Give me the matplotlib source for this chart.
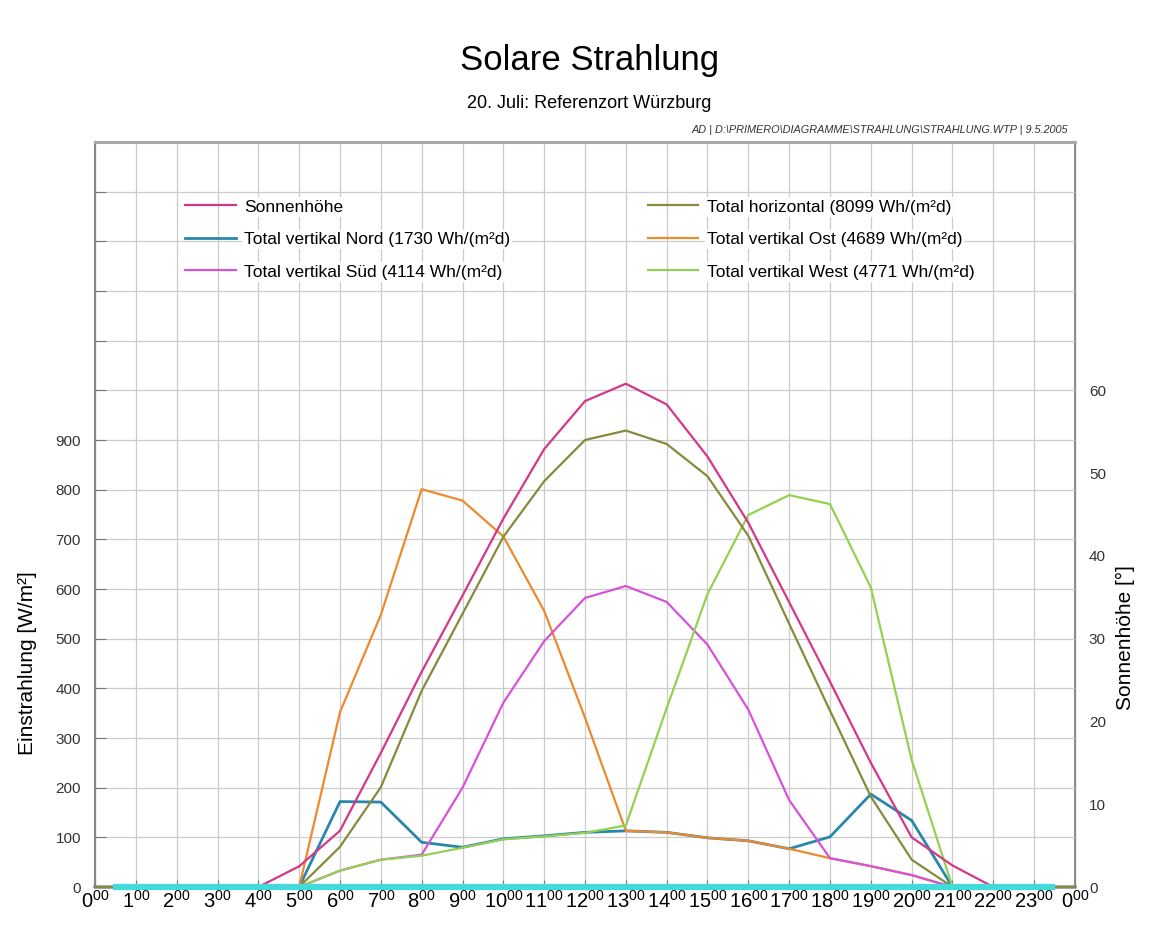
import numpy as np
import matplotlib.pyplot as plt

plt.rcParams['font.family'] = ['Liberation Sans', 'DejaVu Sans']

# Stunden 0..24 (24 = 0:00 des Folgetags)
stunden = np.arange(0, 25)

# Sonnenhoehe in Grad (rechte Achse)
sonnenhoehe = [0, 0, 0, 0, 0, 2.5, 6.8, 16.2, 26.0, 35.2, 44.5, 52.9, 58.7,
               60.8, 58.3, 52.0, 44.0, 34.4, 24.8, 15.0, 6.0, 2.6, 0, 0, 0]

# Einstrahlung in W/m2 (linke Achse)
horizontal = [0, 0, 0, 0, 0, 0, 81, 201, 395, 550, 705, 817, 900,
              919, 892, 827, 707, 530, 355, 182, 55, 0, 0, 0, 0]
nord = [0, 0, 0, 0, 0, 0, 172, 171, 90, 80, 97, 103, 110,
        113, 110, 99, 93, 77, 101, 187, 134, 0, 0, 0, 0]
ost = [0, 0, 0, 0, 0, 0, 352, 548, 801, 778, 706, 556, 341,
       113, 110, 99, 93, 77, 58, 42, 24, 0, 0, 0, 0]
sued = [0, 0, 0, 0, 0, 0, 33, 55, 65, 200, 371, 495, 582,
        606, 574, 488, 357, 175, 58, 42, 24, 0, 0, 0, 0]
west = [0, 0, 0, 0, 0, 0, 33, 55, 63, 79, 96, 102, 109,
        124, 360, 590, 749, 789, 771, 603, 256, 0, 0, 0, 0]

# tuerkise Nulllinie
basis_x = [0.45, 23.5]
basis_y = [0, 0]

labels = {
    'sonne': 'Sonnenhöhe',
    'nord': 'Total vertikal Nord (1730 Wh/(m²d)',
    'sued': 'Total vertikal Süd (4114 Wh/(m²d)',
    'horizontal': 'Total horizontal (8099 Wh/(m²d)',
    'ost': 'Total vertikal Ost (4689 Wh/(m²d)',
    'west': 'Total vertikal West (4771 Wh/(m²d)',
}
farben = {
    'sonne': '#d4378a',
    'nord': '#2a86ad',
    'sued': '#d752d9',
    'horizontal': '#878a3c',
    'ost': '#ec8a2c',
    'west': '#93d152',
}

fig = plt.figure(figsize=(11.7, 9.33), dpi=100)
ax = fig.add_axes([0.0812, 0.0493, 0.8376, 0.7985])
ax2 = ax.twinx()
ax2.set_zorder(ax.get_zorder() - 1)
ax.patch.set_visible(False)

lw = 1.6
l_nord, = ax.plot(stunden, nord, color=farben['nord'], lw=2.0, zorder=3, clip_on=False)
l_ost, = ax.plot(stunden, ost, color=farben['ost'], lw=lw, zorder=4, clip_on=False)
l_sued, = ax.plot(stunden, sued, color=farben['sued'], lw=lw, zorder=5, clip_on=False)
l_west, = ax.plot(stunden, west, color=farben['west'], lw=lw, zorder=6, clip_on=False)
l_sonne, = ax.plot(stunden, np.array(sonnenhoehe) * 1500 / 90,
                   color=farben['sonne'], lw=lw, zorder=6.5, clip_on=False)
l_hor, = ax.plot(stunden, horizontal, color=farben['horizontal'], lw=lw, zorder=7, clip_on=False)
ax.plot(basis_x, basis_y, color='#42dada', lw=4.5, zorder=9, clip_on=False,
        solid_capstyle='butt')

ax.set_xlim(0, 24)
ax.set_ylim(0, 1500)
ax2.set_ylim(0, 90)

ax.set_xticks(stunden)
ax.set_xticklabels([r'$\mathregular{%d^{00}}$' % (h % 24) for h in stunden], fontsize=14.5)
ax.set_yticks(np.arange(0, 1500, 100))
ax.set_yticklabels([str(v) if v <= 900 else '' for v in range(0, 1500, 100)], fontsize=11)
ax2.set_yticks(np.arange(0, 61, 10))
ax2.set_yticklabels([str(v) for v in range(0, 61, 10)], fontsize=11)

ax.tick_params(axis='x', direction='in', length=5, color='#777777', pad=2)
ax.tick_params(axis='y', direction='in', length=8, color='#777777', pad=10, labelcolor='#333333')
ax2.tick_params(axis='y', direction='in', length=0, pad=10, labelcolor='#333333')

ax.grid(True, color='#cccccc', lw=0.9)
for sp in ['left', 'right', 'bottom']:
    ax.spines[sp].set_color('#888888')
    ax2.spines[sp].set_color('#888888')
ax.spines['top'].set_color('#aaaaaa')
ax.spines['top'].set_linewidth(2.2)
ax.spines['left'].set_linewidth(1.5)
ax2.spines['right'].set_linewidth(1.5)

ax.set_ylabel('Einstrahlung [W/m²]', fontsize=15)
ax.yaxis.set_label_coords(-0.059, 0.30)
ax2.set_ylabel('Sonnenhöhe [°]', fontsize=15, rotation=90)
ax2.yaxis.set_label_coords(1.042, 0.335)

leg_kw = dict(loc='upper left', frameon=False, fontsize=12.5, handlelength=2.9,
              handletextpad=0.5, labelspacing=1.0, borderpad=0, borderaxespad=0)
leg1 = ax.legend([l_sonne, l_nord, l_sued],
                 [labels['sonne'], labels['nord'], labels['sued']],
                 bbox_to_anchor=(0.092, 0.923), **leg_kw)
ax.add_artist(leg1)
leg2 = ax.legend([l_hor, l_ost, l_west],
                 [labels['horizontal'], labels['ost'], labels['west']],
                 bbox_to_anchor=(0.564, 0.923), **leg_kw)
for leg in (leg1, leg2):
    leg.set_zorder(20)
    for t in leg.get_texts():
        t.set_bbox(dict(facecolor='white', edgecolor='none', pad=1.5))

fig.text(0.504, 0.935, 'Solare Strahlung', ha='center', va='center', fontsize=25)
fig.text(0.504, 0.889, '20. Juli: Referenzort Würzburg', ha='center', va='center', fontsize=13)
fig.text(0.913, 0.861, r'AD | D:\PRIMERO\DIAGRAMME\STRAHLUNG\STRAHLUNG.WTP | 9.5.2005',
         ha='right', va='center', fontsize=7.8, style='italic', color='#333333')

fig.savefig('out.png', dpi=100)
